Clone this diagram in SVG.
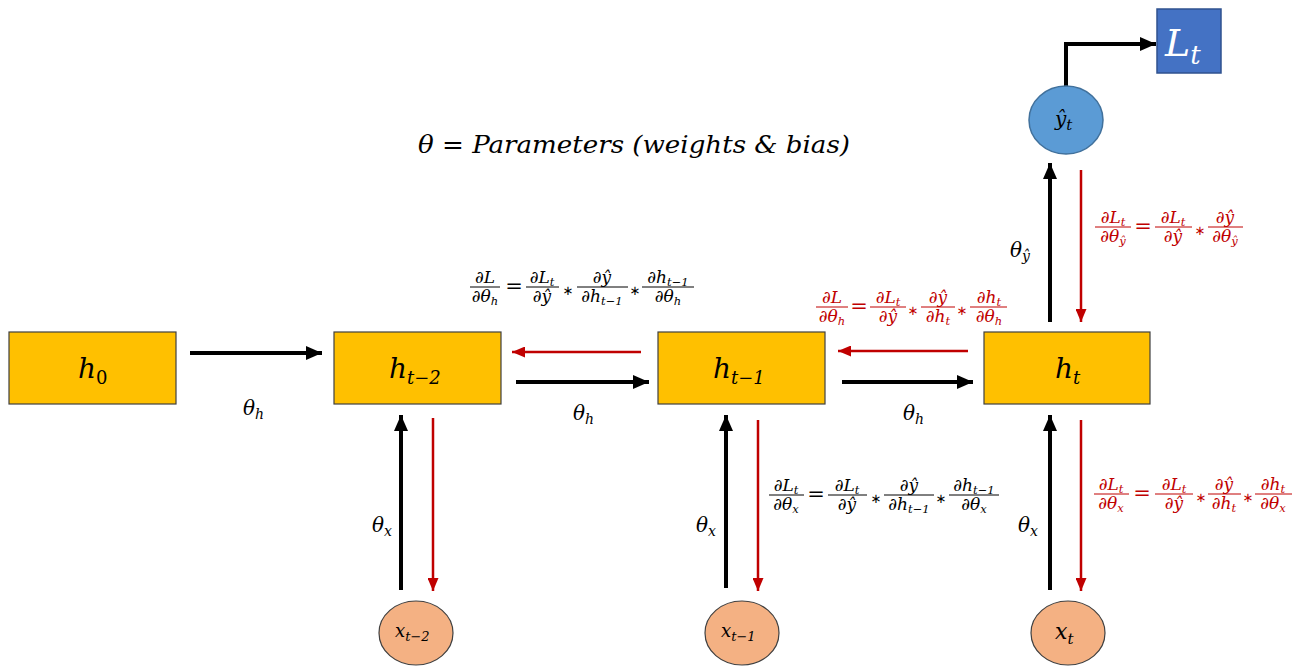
<svg xmlns="http://www.w3.org/2000/svg" width="1304" height="667" viewBox="0 0 1304 667">
<style>
.box{fill:#FFC000;stroke:#404040;stroke-width:1.2}
.xin{fill:#F4B183;stroke:#404040;stroke-width:1.2}
.yh{fill:#5B9BD5;stroke:#41719C;stroke-width:1.5}
.lt{fill:#4472C4;stroke:#2F528F;stroke-width:1.5}
.m{font-family:"DejaVu Serif","Liberation Serif",serif;font-style:italic}
.nl{font-size:28px;fill:#000}
.ns{font-size:18px}
.lab{font-size:20px;fill:#000}
.ls{font-size:14px}
.f{font-size:17px;text-anchor:middle}
.s{font-size:11.5px}
.op{font-size:21px;text-anchor:middle;font-style:normal}
.st{font-size:13px;text-anchor:middle;font-style:normal;font-family:"DejaVu Sans",sans-serif}
.blk{fill:#000}
.red{fill:#C00000}
.blk .st{fill:#000}
.red .st{fill:#C00000}
.flb{stroke:#000;stroke-width:1}
.flr{stroke:#C00000;stroke-width:1}
.ab{stroke:#000;stroke-width:4;fill:none}
.ar{stroke:#C00000;stroke-width:2.5;fill:none}
</style>
<defs>
<marker id="mb" markerUnits="userSpaceOnUse" markerWidth="16" markerHeight="14" refX="16" refY="7" orient="auto"><path d="M0,0 L16,7 L0,14 z" fill="#000"/></marker>
<marker id="mr" markerUnits="userSpaceOnUse" markerWidth="13" markerHeight="11" refX="13" refY="5.5" orient="auto"><path d="M0,0 L13,5.5 L0,11 z" fill="#C00000"/></marker>
</defs>
<rect width="1304" height="667" fill="#fff"/>

<g id="connectors">
<line class="ab" x1="190" y1="353" x2="322" y2="353" marker-end="url(#mb)"/>
<line class="ar" x1="641" y1="352" x2="512" y2="352" marker-end="url(#mr)"/>
<line class="ab" x1="516" y1="382" x2="649" y2="382" marker-end="url(#mb)"/>
<line class="ar" x1="968" y1="351" x2="838" y2="351" marker-end="url(#mr)"/>
<line class="ab" x1="842" y1="382" x2="973" y2="382" marker-end="url(#mb)"/>
<line class="ab" x1="401" y1="590" x2="401" y2="415" marker-end="url(#mb)"/>
<line class="ar" x1="433" y1="418" x2="433" y2="591" marker-end="url(#mr)"/>
<line class="ab" x1="726" y1="588" x2="726" y2="415" marker-end="url(#mb)"/>
<line class="ar" x1="758" y1="420" x2="758" y2="591" marker-end="url(#mr)"/>
<line class="ab" x1="1050" y1="590" x2="1050" y2="415" marker-end="url(#mb)"/>
<line class="ar" x1="1081" y1="420" x2="1081" y2="591" marker-end="url(#mr)"/>
<line class="ab" x1="1050" y1="322" x2="1050" y2="163" marker-end="url(#mb)"/>
<line class="ar" x1="1081" y1="170" x2="1081" y2="322" marker-end="url(#mr)"/>
<path class="ab" d="M1066,87 V44 H1156" marker-end="url(#mb)"/>
</g>

<g id="h0"><rect class="box" x="9" y="332" width="167" height="72"/>
<text class="m nl" x="78" y="378">h<tspan class="ns" dy="6" font-style="normal">0</tspan></text></g>
<g id="ht2"><rect class="box" x="334" y="332" width="167" height="72"/>
<text class="m nl" x="389" y="378">h<tspan class="ns" dy="6">t−2</tspan></text></g>
<g id="ht1"><rect class="box" x="658" y="332" width="167" height="72"/>
<text class="m nl" x="713" y="378">h<tspan class="ns" dy="6">t−1</tspan></text></g>
<g id="ht"><rect class="box" x="984" y="332" width="166" height="72"/>
<text class="m nl" x="1055" y="378">h<tspan class="ns" dy="6">t</tspan></text></g>

<g id="yhat"><ellipse class="yh" cx="1066" cy="120" rx="37" ry="34"/>
<text class="m" font-size="20" x="1055" y="126">ŷ<tspan font-size="15" dy="4">t</tspan></text></g>
<g id="Lt"><rect class="lt" x="1157" y="9" width="64" height="64"/>
<text class="m" font-size="38" fill="#fff" x="1165" y="56">L<tspan font-size="26" dy="8">t</tspan></text></g>

<g id="xt2"><ellipse class="xin" cx="416" cy="633" rx="37" ry="32"/>
<text class="m" font-size="18" x="395" y="637">x<tspan font-size="13" dy="4">t−2</tspan></text></g>
<g id="xt1"><ellipse class="xin" cx="742" cy="633" rx="37" ry="32"/>
<text class="m" font-size="18" x="721" y="637">x<tspan font-size="13" dy="4">t−1</tspan></text></g>
<g id="xt"><ellipse class="xin" cx="1068" cy="633" rx="37" ry="32"/>
<text class="m" font-size="22" x="1055" y="639">x<tspan font-size="15" dy="5">t</tspan></text></g>

<g id="labels">
<text class="m lab" x="243" y="415">θ<tspan class="ls" dy="4">h</tspan></text>
<text class="m lab" x="573" y="420">θ<tspan class="ls" dy="4">h</tspan></text>
<text class="m lab" x="903" y="420">θ<tspan class="ls" dy="4">h</tspan></text>
<text class="m lab" x="372" y="532">θ<tspan class="ls" dy="4">x</tspan></text>
<text class="m lab" x="696" y="532">θ<tspan class="ls" dy="4">x</tspan></text>
<text class="m lab" x="1018" y="532">θ<tspan class="ls" dy="4">x</tspan></text>
<text class="m lab" x="1010" y="257">θ<tspan class="ls" dy="4">ŷ</tspan></text>
<text class="m" font-size="25" x="418" y="153" textLength="432" lengthAdjust="spacingAndGlyphs">θ = Parameters (weights &amp; bias)</text>
</g>

<g id="eq1" class="m blk">
<line class="flb" x1="470" y1="287" x2="500" y2="287"/>
<text class="f" x="485" y="283">∂L</text>
<text class="f" x="485" y="302">∂θ<tspan class="s" dy="3">h</tspan></text>
<text class="op" x="514" y="293">=</text>
<line class="flb" x1="526" y1="287" x2="559" y2="287"/>
<text class="f" x="542" y="283">∂L<tspan class="s" dy="3">t</tspan></text>
<text class="f" x="542" y="302">∂ŷ</text>
<text class="st" x="568" y="295">∗</text>
<line class="flb" x1="577" y1="287" x2="628" y2="287"/>
<text class="f" x="602" y="283">∂ŷ</text>
<text class="f" x="602" y="302">∂h<tspan class="s" dy="3">t−1</tspan></text>
<text class="st" x="635" y="295">∗</text>
<line class="flb" x1="642" y1="287" x2="694" y2="287"/>
<text class="f" x="668" y="283">∂h<tspan class="s" dy="3">t−1</tspan></text>
<text class="f" x="668" y="302">∂θ<tspan class="s" dy="3">h</tspan></text>
</g>

<g id="eq2" class="m red">
<line class="flr" x1="816" y1="307" x2="848" y2="307"/>
<text class="f" x="832" y="303">∂L</text>
<text class="f" x="832" y="322">∂θ<tspan class="s" dy="3">h</tspan></text>
<text class="op" x="859" y="313">=</text>
<line class="flr" x1="870" y1="307" x2="906" y2="307"/>
<text class="f" x="888" y="303">∂L<tspan class="s" dy="3">t</tspan></text>
<text class="f" x="888" y="322">∂ŷ</text>
<text class="st" x="913" y="315">∗</text>
<line class="flr" x1="921" y1="307" x2="955" y2="307"/>
<text class="f" x="938" y="303">∂ŷ</text>
<text class="f" x="938" y="322">∂h<tspan class="s" dy="3">t</tspan></text>
<text class="st" x="962" y="315">∗</text>
<line class="flr" x1="970" y1="307" x2="1007" y2="307"/>
<text class="f" x="989" y="303">∂h<tspan class="s" dy="3">t</tspan></text>
<text class="f" x="989" y="322">∂θ<tspan class="s" dy="3">h</tspan></text>
</g>

<g id="eq3" class="m red">
<line class="flr" x1="1095" y1="227" x2="1131" y2="227"/>
<text class="f" x="1113" y="223">∂L<tspan class="s" dy="3">t</tspan></text>
<text class="f" x="1113" y="242">∂θ<tspan class="s" dy="3">ŷ</tspan></text>
<text class="op" x="1143" y="233">=</text>
<line class="flr" x1="1155" y1="227" x2="1192" y2="227"/>
<text class="f" x="1173" y="223">∂L<tspan class="s" dy="3">t</tspan></text>
<text class="f" x="1173" y="242">∂ŷ</text>
<text class="st" x="1200" y="235">∗</text>
<line class="flr" x1="1208" y1="227" x2="1243" y2="227"/>
<text class="f" x="1225" y="223">∂ŷ</text>
<text class="f" x="1225" y="242">∂θ<tspan class="s" dy="3">ŷ</tspan></text>
</g>

<g id="eq4" class="m blk">
<line class="flb" x1="769" y1="495" x2="804" y2="495"/>
<text class="f" x="786" y="491">∂L<tspan class="s" dy="3">t</tspan></text>
<text class="f" x="786" y="510">∂θ<tspan class="s" dy="3">x</tspan></text>
<text class="op" x="816" y="501">=</text>
<line class="flb" x1="828" y1="495" x2="867" y2="495"/>
<text class="f" x="847" y="491">∂L<tspan class="s" dy="3">t</tspan></text>
<text class="f" x="847" y="510">∂ŷ</text>
<text class="st" x="876" y="503">∗</text>
<line class="flb" x1="884" y1="495" x2="934" y2="495"/>
<text class="f" x="909" y="491">∂ŷ</text>
<text class="f" x="909" y="510">∂h<tspan class="s" dy="3">t−1</tspan></text>
<text class="st" x="941" y="503">∗</text>
<line class="flb" x1="949" y1="495" x2="999" y2="495"/>
<text class="f" x="974" y="491">∂h<tspan class="s" dy="3">t−1</tspan></text>
<text class="f" x="974" y="510">∂θ<tspan class="s" dy="3">x</tspan></text>
</g>

<g id="eq5" class="m red">
<line class="flr" x1="1094" y1="494" x2="1129" y2="494"/>
<text class="f" x="1111" y="490">∂L<tspan class="s" dy="3">t</tspan></text>
<text class="f" x="1111" y="509">∂θ<tspan class="s" dy="3">x</tspan></text>
<text class="op" x="1142" y="500">=</text>
<line class="flr" x1="1155" y1="494" x2="1193" y2="494"/>
<text class="f" x="1174" y="490">∂L<tspan class="s" dy="3">t</tspan></text>
<text class="f" x="1174" y="509">∂ŷ</text>
<text class="st" x="1201" y="502">∗</text>
<line class="flr" x1="1208" y1="494" x2="1241" y2="494"/>
<text class="f" x="1224" y="490">∂ŷ</text>
<text class="f" x="1224" y="509">∂h<tspan class="s" dy="3">t</tspan></text>
<text class="st" x="1248" y="502">∗</text>
<line class="flr" x1="1255" y1="494" x2="1292" y2="494"/>
<text class="f" x="1273" y="490">∂h<tspan class="s" dy="3">t</tspan></text>
<text class="f" x="1273" y="509">∂θ<tspan class="s" dy="3">x</tspan></text>
</g>
</svg>
